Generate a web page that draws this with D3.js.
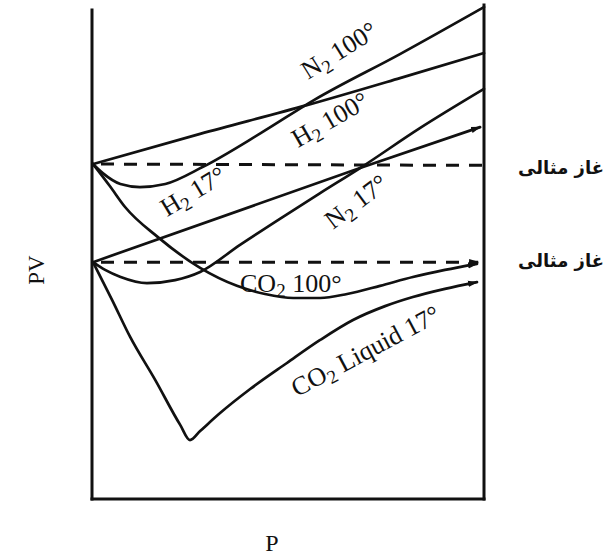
<!DOCTYPE html>
<html>
<head>
<meta charset="utf-8">
<script src="https://cdn.jsdelivr.net/npm/d3@7"></script>
<style>
  html, body { margin: 0; padding: 0; background: #fff; }
  svg { display: block; }
</style>
</head>
<body>
<svg id="chart" width="609" height="555"></svg>
<script>
// Pressure (arbitrary units) and PV (relative to the ideal gas at 17°)
const n2_100_P  = [0, 25, 70, 120, 185, 280, 430, 565, 785, 1000];
const n2_100_PV = [1.29, 1.263, 1.231, 1.222, 1.231, 1.281, 1.382, 1.479, 1.615, 1.754];

const h2_100_P  = [0, 274, 547, 785, 1000];
const h2_100_PV = [1.29, 1.379, 1.464, 1.544, 1.618];

const co2_100_P  = [0, 43, 82, 166, 274, 368, 440, 512, 581, 650, 734, 818, 900, 982];
const co2_100_PV = [1.29, 1.225, 1.163, 1.074, 0.983, 0.930, 0.906, 0.894, 0.894, 0.906, 0.930, 0.956, 0.977, 0.995];

const n2_17_P  = [0, 31, 69, 138, 210, 274, 376, 478, 581, 683, 836, 1000];
const n2_17_PV = [1.0, 0.977, 0.957, 0.938, 0.947, 0.971, 1.051, 1.128, 1.204, 1.278, 1.396, 1.512];

const h2_17_P  = [0, 683, 990];
const h2_17_PV = [1.0, 1.278, 1.399];

const co2_liq_P  = [0, 49, 95, 159, 223, 248, 274, 325, 402, 496, 581, 665, 747, 818, 900, 982];
const co2_liq_PV = [1.0, 0.888, 0.779, 0.652, 0.519, 0.474, 0.501, 0.554, 0.625, 0.702, 0.770, 0.829, 0.870, 0.897, 0.921, 0.941];

// Ideal gas reference lines (PV constant)
const ideal100_P  = [0, 1000];
const ideal100_PV = [1.29, 1.286];
const ideal17_P   = [0, 985];
const ideal17_PV  = [1.0, 1.0];

const idealLabel = "غاز مثالی";

const svg = d3.select("#chart");

const x = d3.scaleLinear().domain([0, 1000]).range([93, 484]);
const y = d3.scaleLinear().domain([0.3, 1.76]).range([499, 5]);

const zip = (ps, vs) => ps.map((p, i) => [p, vs[i]]);

// arrowhead marker
svg.append("defs").append("marker")
  .attr("id", "arrow")
  .attr("markerUnits", "userSpaceOnUse")
  .attr("viewBox", "0 -4 10 8")
  .attr("refX", 9).attr("refY", 0)
  .attr("markerWidth", 10).attr("markerHeight", 8)
  .attr("orient", "auto")
  .append("path")
  .attr("d", "M0,-3.2L10,0L0,3.2Z")
  .attr("fill", "#111");

// frame: left, bottom and right edges
const frame = svg.append("g").attr("stroke", "#111").attr("stroke-width", 3).attr("stroke-linecap", "square");
frame.append("line").attr("x1", x(0) - 1).attr("x2", x(0) - 1).attr("y1", y(0.3)).attr("y2", y(1.745));
frame.append("line").attr("x1", x(0) - 1).attr("x2", x(1000)).attr("y1", y(0.3)).attr("y2", y(0.3));
frame.append("line").attr("x1", x(1000)).attr("x2", x(1000)).attr("y1", y(0.3)).attr("y2", y(1.76));

const line = d3.line().x(d => x(d[0])).y(d => y(d[1])).curve(d3.curveMonotoneX);

const curves = [
  { pts: zip(n2_100_P, n2_100_PV), arrow: false },
  { pts: zip(h2_100_P, h2_100_PV), arrow: false },
  { pts: zip(co2_100_P, co2_100_PV), arrow: true },
  { pts: zip(n2_17_P, n2_17_PV), arrow: false },
  { pts: zip(h2_17_P, h2_17_PV), arrow: true },
  { pts: zip(co2_liq_P, co2_liq_PV), arrow: true }
];

svg.append("g").selectAll("path").data(curves).join("path")
  .attr("d", d => line(d.pts))
  .attr("fill", "none")
  .attr("stroke", "#111")
  .attr("stroke-width", 2.7)
  .attr("stroke-linejoin", "round")
  .attr("stroke-linecap", "round")
  .attr("marker-end", d => d.arrow ? "url(#arrow)" : null);

const ideal = [
  { pts: zip(ideal100_P, ideal100_PV), arrow: false },
  { pts: zip(ideal17_P, ideal17_PV), arrow: true }
];
svg.append("g").selectAll("path").data(ideal).join("path")
  .attr("d", d => d3.line().x(p => x(p[0])).y(p => y(p[1]))(d.pts))
  .attr("fill", "none")
  .attr("stroke", "#111")
  .attr("stroke-width", 3)
  .attr("stroke-dasharray", "13,10")
  .attr("stroke-dashoffset", -8)
  .attr("marker-end", d => d.arrow ? "url(#arrow)" : null);

// curve labels: [main, subscript, rest]
const labels = [
  { parts: ["N", "2", " 100°"], P: 550, PV: 1.538, angle: -32 },
  { parts: ["H", "2", " 100°"], P: 524, PV: 1.337, angle: -30 },
  { parts: ["H", "2", " 17°"],  P: 189, PV: 1.133, angle: -31 },
  { parts: ["N", "2", " 17°"],  P: 614, PV: 1.095, angle: -37 },
  { parts: ["CO", "2", " 100°"], P: 376, PV: 0.912, angle: 0 },
  { parts: ["CO", "2", " Liquid 17°"], P: 522, PV: 0.601, angle: -28 }
];

const fontSerif = "'Liberation Serif', 'Times New Roman', serif";
const lab = svg.append("g").selectAll("text").data(labels).join("text")
  .attr("transform", d => `translate(${x(d.P)},${y(d.PV)}) rotate(${d.angle})`)
  .attr("font-family", fontSerif)
  .attr("font-size", 26)
  .attr("fill", "#111");
lab.append("tspan").text(d => d.parts[0]);
lab.append("tspan").attr("font-size", 19).attr("dy", 5).text(d => d.parts[1]);
lab.append("tspan").attr("dy", -5).text(d => d.parts[2]);

// ideal gas labels at the right
svg.append("g").selectAll("text").data([ideal100_PV[1], ideal17_PV[1]]).join("text")
  .attr("x", 604)
  .attr("y", (d, i) => y(d) + (i === 0 ? 9 : 5))
  .attr("text-anchor", "end")
  .attr("font-family", "'DejaVu Sans', sans-serif")
  .attr("font-size", 18)
  .attr("font-weight", "bold")
  .attr("fill", "#111")
  .text(idealLabel);

// axis titles
svg.append("text")
  .attr("transform", "translate(44,270) rotate(-90)")
  .attr("text-anchor", "middle")
  .attr("font-family", fontSerif)
  .attr("font-size", 23)
  .attr("fill", "#111")
  .text("PV");

svg.append("text")
  .attr("x", 272).attr("y", 551)
  .attr("text-anchor", "middle")
  .attr("font-family", fontSerif)
  .attr("font-size", 24)
  .attr("fill", "#111")
  .text("P");
</script>
</body>
</html>
